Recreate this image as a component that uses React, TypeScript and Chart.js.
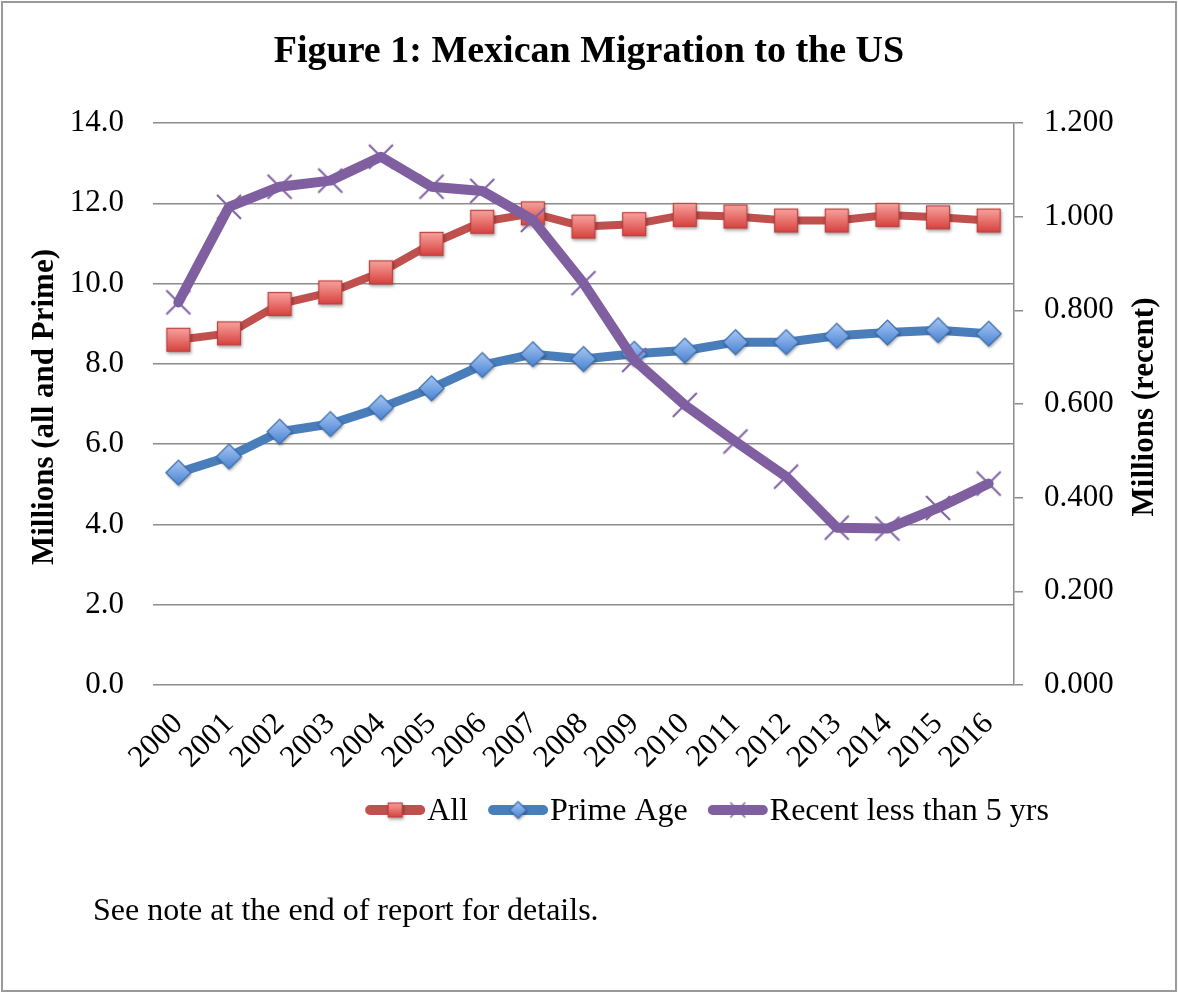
import React, { useEffect, useRef } from "react";
import { Chart, registerables } from "chart.js";

Chart.register(...registerables);

const years = ["2000","2001","2002","2003","2004","2005","2006","2007","2008","2009","2010","2011","2012","2013","2014","2015","2016"];
const allMigrants = [8.60, 8.76, 9.49, 9.78, 10.28, 10.99, 11.54, 11.75, 11.42, 11.48, 11.71, 11.67, 11.57, 11.57, 11.71, 11.65, 11.57];
const primeAge = [5.29, 5.69, 6.31, 6.50, 6.91, 7.39, 7.97, 8.24, 8.12, 8.25, 8.33, 8.54, 8.54, 8.70, 8.78, 8.84, 8.75];
const recentLess5 = [0.817, 1.021, 1.064, 1.077, 1.128, 1.064, 1.055, 0.993, 0.858, 0.694, 0.598, 0.520, 0.445, 0.336, 0.334, 0.378, 0.430];
const leftTicks = { min: 0, max: 14, step: 2 };
const rightTicks = { min: 0, max: 1.2, step: 0.2 };
const seriesNames = ["All", "Prime Age", "Recent less than 5 yrs"];

const SERIF = '"Liberation Serif", "Times New Roman", serif';
const GRID = "#8c8c8c";

function makeSquare(size: number) {
  const pad = 5;
  const c = document.createElement("canvas");
  c.width = c.height = size + pad * 2;
  const ctx = c.getContext("2d")!;
  ctx.save();
  ctx.shadowColor = "rgba(0,0,0,0.35)";
  ctx.shadowBlur = 3;
  ctx.shadowOffsetX = 1;
  ctx.shadowOffsetY = 2;
  const g = ctx.createLinearGradient(0, pad, 0, pad + size);
  g.addColorStop(0, "#F9A4A0");
  g.addColorStop(1, "#D6403C");
  ctx.fillStyle = g;
  ctx.fillRect(pad, pad, size, size);
  ctx.restore();
  ctx.strokeStyle = "#B9423F";
  ctx.lineWidth = 1.2;
  ctx.strokeRect(pad + 0.5, pad + 0.5, size - 1, size - 1);
  return c;
}

function makeDiamond(size: number) {
  const pad = 5;
  const c = document.createElement("canvas");
  c.width = c.height = size + pad * 2;
  const ctx = c.getContext("2d")!;
  const cx = pad + size / 2;
  const path = () => {
    ctx.beginPath();
    ctx.moveTo(cx, pad);
    ctx.lineTo(pad + size, cx);
    ctx.lineTo(cx, pad + size);
    ctx.lineTo(pad, cx);
    ctx.closePath();
  };
  ctx.save();
  ctx.shadowColor = "rgba(0,0,0,0.35)";
  ctx.shadowBlur = 3;
  ctx.shadowOffsetX = 1;
  ctx.shadowOffsetY = 2;
  const g = ctx.createLinearGradient(0, pad, 0, pad + size);
  g.addColorStop(0, "#A8C8F3");
  g.addColorStop(1, "#4781D2");
  ctx.fillStyle = g;
  path();
  ctx.fill();
  ctx.restore();
  ctx.strokeStyle = "#3C6DAA";
  ctx.lineWidth = 1.2;
  path();
  ctx.stroke();
  return c;
}

function makeCross(size: number, lw: number) {
  const pad = 3;
  const c = document.createElement("canvas");
  c.width = c.height = size + pad * 2;
  const ctx = c.getContext("2d")!;
  ctx.strokeStyle = "#7F61A3";
  ctx.lineWidth = lw;
  ctx.beginPath();
  ctx.moveTo(pad, pad);
  ctx.lineTo(pad + size, pad + size);
  ctx.moveTo(pad + size, pad);
  ctx.lineTo(pad, pad + size);
  ctx.stroke();
  return c;
}

export default function App() {
  const ref = useRef<HTMLCanvasElement | null>(null);

  useEffect(() => {
    const canvas = ref.current!;
    const square = makeSquare(24);
    const diamond = makeDiamond(25);
    const cross = makeCross(24, 2);
    const legSquare = makeSquare(15);
    const legDiamond = makeDiamond(17);
    const legCross = makeCross(15, 1.5);
    const colors = ["#C0504D", "#4A7EBB", "#7F5FA0"];

    const overlay = {
      id: "overlay",
      afterDraw(chart: any) {
        const ctx = chart.ctx as CanvasRenderingContext2D;
        const area = chart.chartArea;
        const midY = (area.top + area.bottom) / 2;
        ctx.save();
        ctx.fillStyle = "#000";
        ctx.font = `bold 31px ${SERIF}`;
        ctx.textAlign = "center";
        ctx.textBaseline = "middle";
        ctx.translate(45, midY + 3);
        ctx.rotate(-Math.PI / 2);
        ctx.fillText("Millions (all and Prime)", 0, 0);
        ctx.restore();

        ctx.save();
        ctx.fillStyle = "#000";
        ctx.font = `bold 31px ${SERIF}`;
        ctx.textAlign = "center";
        ctx.textBaseline = "middle";
        ctx.translate(1145, midY + 3);
        ctx.rotate(-Math.PI / 2);
        ctx.fillText("Millions (recent)", 0, 0);
        ctx.restore();

        // legend
        const markers = [legSquare, legDiamond, legCross];
        const lineLen = 60;
        const gapText = 2;
        const gapItem = 20;
        ctx.save();
        ctx.font = `32px ${SERIF}`;
        const widths = seriesNames.map((n) => ctx.measureText(n).width);
        let total = 0;
        widths.forEach((w, i) => {
          total += lineLen + gapText + w + (i < widths.length - 1 ? gapItem : 0);
        });
        let x = 707 - total / 2;
        const ly = 810;
        seriesNames.forEach((name, i) => {
          ctx.strokeStyle = colors[i];
          ctx.lineWidth = 10;
          ctx.lineCap = "round";
          ctx.beginPath();
          ctx.moveTo(x + 5, ly);
          ctx.lineTo(x + lineLen - 5, ly);
          ctx.stroke();
          const m = markers[i];
          ctx.drawImage(m, x + lineLen / 2 - m.width / 2, ly - m.height / 2);
          ctx.fillStyle = "#000";
          ctx.textAlign = "left";
          ctx.textBaseline = "middle";
          ctx.fillText(name, x + lineLen + gapText, ly + 2);
          x += lineLen + gapText + widths[i] + gapItem;
        });
        ctx.restore();
      },
    };

    const tickFont = { family: SERIF, size: 31 };

    const chart = new Chart(canvas, {
      type: "line",
      data: {
        labels: years,
        datasets: [
          {
            label: seriesNames[0],
            data: allMigrants,
            yAxisID: "y",
            borderColor: colors[0],
            borderWidth: 8,
            borderJoinStyle: "round",
            borderCapStyle: "round",
            pointStyle: square as any,
            pointRadius: 12,
            order: 2,
          },
          {
            label: seriesNames[1],
            data: primeAge,
            yAxisID: "y",
            borderColor: colors[1],
            borderWidth: 9,
            borderJoinStyle: "round",
            borderCapStyle: "round",
            pointStyle: diamond as any,
            pointRadius: 12,
            order: 1,
          },
          {
            label: seriesNames[2],
            data: recentLess5,
            yAxisID: "y1",
            borderColor: colors[2],
            borderWidth: 10,
            borderJoinStyle: "round",
            borderCapStyle: "round",
            pointStyle: cross as any,
            pointRadius: 12,
            order: 0,
          },
        ],
      },
      options: {
        responsive: false,
        animation: false,
        events: [],
        layout: { padding: { top: 123, left: 0, right: 0, bottom: 0 } },
        plugins: {
          legend: { display: false },
          tooltip: { enabled: false },
          title: { display: false },
        },
        scales: {
          x: {
            offset: true,
            grid: { display: false },
            border: { display: false },
            ticks: {
              font: { ...tickFont, lineHeight: 1 },
              color: "#000",
              minRotation: 45,
              maxRotation: 45,
              autoSkip: false,
              padding: 15,
            },
            afterFit: (s: any) => {
              s.height = 308;
            },
          },
          y: {
            position: "left",
            min: leftTicks.min,
            max: leftTicks.max,
            ticks: {
              stepSize: leftTicks.step,
              font: tickFont,
              color: "#000",
              padding: 29,
              callback: (v: any) => Number(v).toFixed(1),
            },
            grid: { color: GRID, lineWidth: 1.5, drawTicks: false },
            border: { display: false },
            afterFit: (s: any) => {
              s.width = 153;
            },
          },
          y1: {
            position: "right",
            min: rightTicks.min,
            max: rightTicks.max,
            ticks: {
              stepSize: rightTicks.step,
              font: tickFont,
              color: "#000",
              padding: 21,
              callback: (v: any) => Number(v).toFixed(3),
            },
            grid: { drawOnChartArea: false, drawTicks: true, tickLength: 9, color: GRID, lineWidth: 1.5 },
            border: { display: true, color: GRID, width: 1.5 },
            afterFit: (s: any) => {
              s.width = 164;
            },
          },
        },
      },
      plugins: [overlay],
    } as any);

    return () => chart.destroy();
  }, []);

  return (
    <div style={{ position: "absolute", left: 0, top: 0, width: 1178, height: 993, background: "#fff" }}>
      <canvas ref={ref} width={1178} height={993} style={{ position: "absolute", left: 0, top: 0, width: 1178, height: 993 }} />
      <div
        style={{
          position: "absolute",
          left: 0,
          top: 30,
          width: 1178,
          textAlign: "center",
          fontFamily: SERIF,
          fontWeight: "bold",
          fontSize: 38,
          lineHeight: "38px",
          color: "#000",
        }}
      >
        Figure 1: Mexican Migration to the US
      </div>
      <div
        style={{
          position: "absolute",
          left: 93,
          top: 893,
          fontFamily: SERIF,
          fontSize: 32,
          lineHeight: "32px",
          color: "#000",
          whiteSpace: "nowrap",
        }}
      >
        See note at the end of report for details.
      </div>
      <div
        style={{
          position: "absolute",
          left: 1,
          top: 1,
          width: 1176,
          height: 991,
          boxSizing: "border-box",
          border: "2px solid #9a9a9a",
          pointerEvents: "none",
        }}
      />
    </div>
  );
}
